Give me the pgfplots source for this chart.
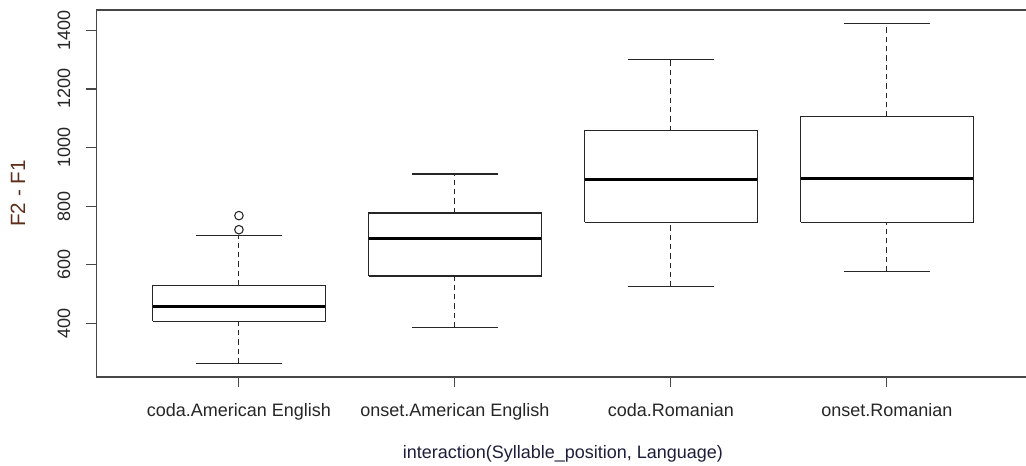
\documentclass[border=0pt]{standalone}
\usepackage{fontspec}
\setmainfont{Liberation Sans}
\usepackage{pgfplots}
\pgfplotsset{compat=1.18}

\definecolor{framegray}{RGB}{70,70,70}
\definecolor{ylabcol}{RGB}{95,45,25}
\definecolor{xlabcol}{RGB}{30,30,60}

\pgfplotsset{
  boxline/.style={draw=black!85, line width=0.8pt, line join=miter},
  stem/.style={boxline, dash pattern=on 4pt off 3pt},
  staple/.style={only marks, mark=-, mark size=32.4pt,
    mark options={solid, draw=black!85, line width=0.8pt}},
}

% one R style box: #1 position, #2 left edge, #3 right edge,
% #4 lower whisker, #5 lower quartile, #6 median, #7 upper quartile, #8 upper whisker
\newcommand{\rbox}[8]{%
  \addplot[stem] coordinates {(#1,#4) (#1,#5)};
  \addplot[stem] coordinates {(#1,#7) (#1,#8)};
  \addplot[staple] coordinates {(#1,#4) (#1,#8)};
  \addplot[boxline, fill=white] coordinates {(#2,#5) (#3,#5) (#3,#7) (#2,#7) (#2,#5)};
  \addplot[draw=black, line width=2.4pt] coordinates {(#2,#6) (#3,#6)};
}

\begin{document}
\begin{tikzpicture}
\useasboundingbox (-72.3pt,-66.75pt) rectangle (697.2pt,282.75pt);
\begin{axis}[
    at={(0,0)}, anchor=south west,
    scale only axis,
    width=699.8pt, height=275.25pt,
    xmin=0.34, xmax=4.66,
    ymin=217.6, ymax=1469.4,
    axis line style={draw=framegray, line width=0.8pt},
    tick style={draw=framegray, line width=0.8pt},
    tick align=outside,
    major tick length=7.5pt,
    xtick pos=left, ytick pos=left,
    xtick={1,2,3,4},
    xticklabels={coda.American English, onset.American English, coda.Romanian, onset.Romanian},
    ytick={400,600,...,1400},
    /pgf/number format/1000 sep={},
    /pgf/number format/assume math mode=true,
    tick label style={font=\fontsize{13.5}{16}\selectfont, color=black!85},
    % rotated labels: local y points to the left on the page
    yticklabel style={rotate=90, anchor=south, yshift=8.6pt},
    xticklabel style={anchor=north, yshift=-9pt},
    xlabel={interaction(Syllable\_position, Language)},
    ylabel={F2 - F1},
    xlabel style={font=\fontsize{13.5}{16}\selectfont,
      at={(axis description cs:0.5,-0.21)}, anchor=center, color=xlabcol},
    ylabel style={font=\fontsize{15.5}{18}\selectfont,
      at={(axis description cs:-0.084,0.5)}, anchor=center, color=ylabcol},
  ]
\rbox{1}{0.6}{1.4}{264}{407}{459}{530}{701}
\rbox{2}{1.6}{2.4}{387}{562}{690}{777}{910}
\rbox{3}{2.6}{3.4}{526}{745}{891}{1057}{1300}
\rbox{4}{3.6}{4.4}{578}{745}{895}{1105}{1423}
% outliers
\addplot[only marks, mark=o, mark size=3.2pt,
  mark options={solid, draw=black!85, line width=0.8pt}]
  coordinates {(1,768) (1,720)};
\end{axis}
\end{tikzpicture}
\end{document}
